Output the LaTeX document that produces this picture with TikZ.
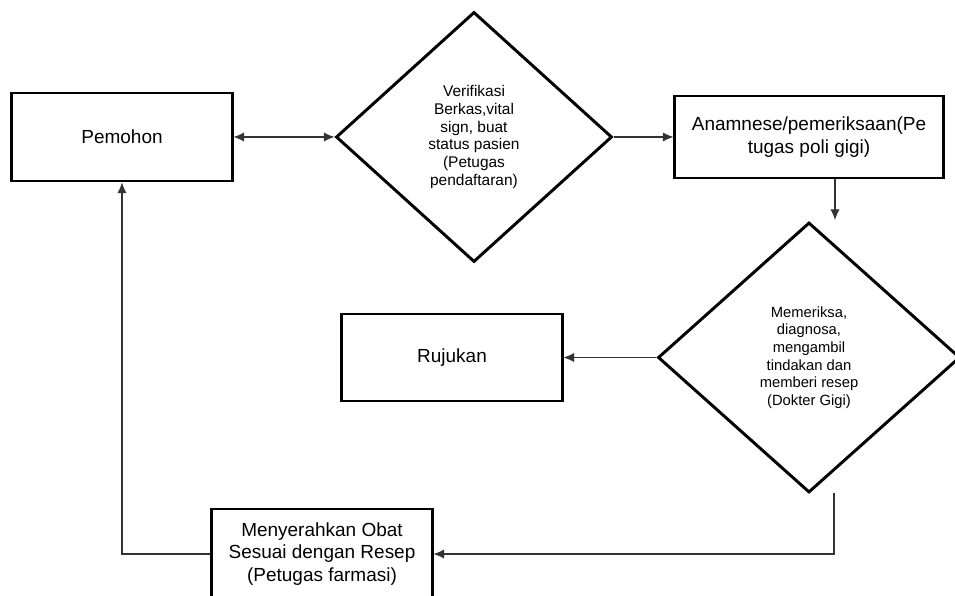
\documentclass[tikz,border=0pt]{standalone}
\usepackage{fontspec}
\setmainfont{Liberation Sans}
\usetikzlibrary{shapes.geometric,arrows.meta}

\begin{document}
\begin{tikzpicture}[x=0.025cm, y=-0.025cm, >={Latex[length=7.5pt,width=6.5pt]},
		kotak/.style={draw, line width=2.1pt, minimum width=5.5cm, minimum height=2.2cm, align=center, font=\fontsize{13.5}{16}\selectfont},
		keputusan/.style={draw, diamond, line width=2.1pt, inner sep=0pt, align=center, font=\fontsize{11}{12.7}\selectfont},
		panah/.style={line width=0.75pt, draw=black!80}]
			%%%%% START %%%%%
			
			\useasboundingbox (0,0) rectangle (955,596);
			
			\node[kotak] (pemohon) at (122,137) {Pemohon};
			\node[keputusan, minimum width=6.9cm, minimum height=6.25cm] (verifikasi) at (474,137) {Verifikasi\\Berkas,vital\\sign, buat\\status pasien\\(Petugas\\pendaftaran)};
			\node[kotak, minimum width=6.7cm, minimum height=2.05cm] (anamnese) at (809,137) {Anamnese/pemeriksaan(Pe\\tugas poli gigi)};
			\node[keputusan, minimum width=7.55cm, minimum height=6.75cm, font=\fontsize{10.5}{12.5}\selectfont] (dokter) at (809,357.5) {Memeriksa,\\diagnosa,\\mengambil\\tindakan dan\\memberi resep\\(Dokter Gigi)};
			\node[kotak, minimum height=2.175cm] (rujukan) at (452,357.5) {Rujukan};
			\node[kotak, minimum height=2.25cm] (farmasi) at (322,554) {Menyerahkan Obat\\Sesuai dengan Resep\\(Petugas farmasi)};
			
			\coordinate (masuk) at (835,220);
			\coordinate (keluar) at (834,493);
			
			\draw[panah, <->] (pemohon.east) -- (verifikasi.west);
			\draw[panah, ->] (verifikasi.east) -- (anamnese.west);
			\draw[panah, ->] (anamnese.south -| masuk) -- (masuk);
			\draw[panah, ->] (dokter.west) -- (rujukan.east);
			\draw[panah, ->] (keluar) |- (farmasi.east);
			\draw[panah, ->] (farmasi.west) -| (pemohon.south);
			
			%%%%% END %%%%%
\end{tikzpicture}
\end{document}
